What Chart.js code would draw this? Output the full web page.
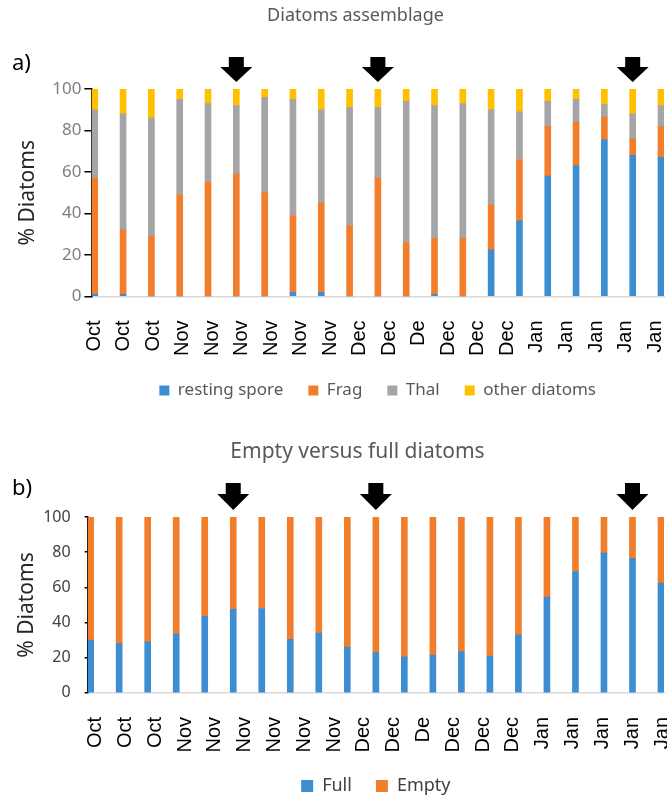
<!DOCTYPE html>
<html>
<head>
<meta charset="utf-8">
<script src="https://cdn.jsdelivr.net/npm/chart.js@4.4.1/dist/chart.umd.min.js"></script>
<style>
  html, body { margin: 0; padding: 0; background: #fff; }
  #wrap { position: relative; width: 667px; height: 799px; overflow: hidden; }
  .panel { position: absolute; left: 0; width: 667px; }
  #pa { top: 0; height: 409px; }
  #pb { top: 410px; height: 395px; }
  .tag { position: absolute; font: 22px 'Noto Sans', sans-serif; line-height: 1; color: #000; }
  .ttl { position: absolute; width: 667px; text-align: center; font-family: 'Noto Sans', sans-serif; color: #595959; }
</style>
</head>
<body>
<div id="wrap">
  <div class="panel" id="pa"><canvas id="chartA"></canvas></div>
  <div class="panel" id="pb"><canvas id="chartB"></canvas></div>
  <div class="ttl" style="left:22px;top:2px;font-size:18px;line-height:24px">Diatoms assemblage</div>
  <div class="ttl" style="left:24px;top:436px;font-size:21px;line-height:28px">Empty versus full diatoms</div>
  <div class="tag" style="left:12px;top:50px">a)</div>
  <div class="tag" style="left:12px;top:475px">b)</div>
</div>
<script>
// tick labels under the bars (20 labels, as printed in the figure)
const dateLabels = ['Oct', 'Oct', 'Oct', 'Nov', 'Nov', 'Nov', 'Nov', 'Nov', 'Nov',
  'Dec', 'Dec', 'De', 'Dec', 'Dec', 'Dec', 'Jan', 'Jan', 'Jan', 'Jan', 'Jan'];

// a) diatom assemblage, % per sample (21 samples)
const restingSpore = [1, 1, 0, 0, 0, 0, 0, 2, 2, 0, 0, 0, 1, 0, 22.5, 36.5, 58, 63, 75.5, 68, 67];
const frag = [56, 31, 29, 49, 55, 59, 50, 37, 43, 34, 57, 26, 27, 28, 21.5, 29.5, 24, 21, 11, 8, 15];
const thal = [33, 56, 57, 46, 38, 33, 46, 56, 45, 57, 34, 68, 64, 65, 46, 23, 12, 11, 6, 12, 10];
const otherDiatoms = [10, 12, 14, 5, 7, 8, 4, 5, 10, 9, 9, 6, 8, 7, 10, 11, 6, 5, 7.5, 12, 8];

// b) empty versus full, % per sample
const full = [30, 28, 29, 33.5, 43.5, 47.5, 48, 30.5, 34, 26, 23, 20.5, 21.5, 23.5, 21, 33, 54.5, 69, 79.5, 76.5, 62.5];
const empty = [70, 72, 71, 66.5, 56.5, 52.5, 52, 69.5, 66, 74, 77, 79.5, 78.5, 76.5, 79, 67, 45.5, 31, 20.5, 23.5, 37.5];

// samples marked with a black arrow
const arrowAt = [5, 10, 19];

const BLUE = '#3d8dd2';
const ORANGE = '#f27e2c';
const GRAY = '#a5a5a5';
const YELLOW = '#ffc000';

Chart.defaults.font.family = "'Noto Sans', sans-serif";

const arrowPlugin = {
  id: 'arrows',
  afterDatasetsDraw(chart, args, opts) {
    const { ctx, chartArea } = chart;
    const xScale = chart.scales.x;
    const tip = chartArea.top - opts.gap;
    const top = tip - opts.length;
    const neck = tip - opts.head;
    ctx.save();
    ctx.fillStyle = '#000';
    opts.at.forEach(i => {
      const cx = xScale.getPixelForValue(i);
      ctx.beginPath();
      ctx.moveTo(cx - 7.5, top);
      ctx.lineTo(cx + 7.5, top);
      ctx.lineTo(cx + 7.5, neck);
      ctx.lineTo(cx + 16, neck);
      ctx.lineTo(cx, tip);
      ctx.lineTo(cx - 16, neck);
      ctx.lineTo(cx - 7.5, neck);
      ctx.closePath();
      ctx.fill();
    });
    ctx.restore();
  }
};

const toPoints = arr => arr.map((v, i) => ({ x: i, y: v }));

const makeSet = (label, values, color) => ({
  label,
  data: toPoints(values),
  backgroundColor: color,
  borderWidth: 0,
  barThickness: 6
});

function buildOptions(p) {
  return {
    responsive: true,
    maintainAspectRatio: false,
    animation: false,
    layout: { padding: { left: p.padLeft, right: 3, top: p.padTop, bottom: 0 } },
    plugins: {
      title: { display: false },
      legend: {
        position: 'bottom',
        fullSize: false,
        labels: {
          boxWidth: p.box,
          boxHeight: p.box,
          padding: p.legendPad,
          color: p.legendColor,
          font: { size: p.legendSize }
        }
      },
      tooltip: { enabled: false },
      arrows: { at: arrowAt, gap: 7, length: p.arrowLen, head: p.arrowHead }
    },
    scales: {
      x: {
        type: 'linear',
        display: false,
        stacked: true,
        offset: false,
        bounds: 'data',
        min: p.barMin,
        max: p.barMax,
        grid: { offset: false }
      },
      x2: {
        type: 'linear',
        position: 'bottom',
        offset: false,
        bounds: 'data',
        min: p.lblMin,
        max: p.lblMax,
        grid: { display: false, drawTicks: false, offset: false },
        border: { color: '#d9d9d9', width: 1.5 },
        afterBuildTicks: scale => {
          scale.ticks = dateLabels.map((d, i) => ({ value: i }));
        },
        afterFit: scale => {
          scale.paddingLeft = 0;
          scale.paddingRight = 0;
          scale.height += p.extra;
        },
        ticks: {
          autoSkip: false,
          minRotation: 90,
          maxRotation: 90,
          padding: p.lblPad,
          color: '#000',
          font: { family: "'Liberation Sans', Arial, sans-serif", size: 20 },
          callback: v => dateLabels[v]
        }
      },
      y: {
        stacked: true,
        min: 0,
        max: 100,
        afterFit: scale => { scale.width -= p.yFix; },
        ticks: {
          stepSize: 20,
          color: p.tickColor,
          padding: p.tickPad,
          font: { size: p.tickSize }
        },
        grid: { drawOnChartArea: false, color: '#000', lineWidth: 1.5, tickLength: p.tickLen },
        border: { color: '#000', width: 1.5 },
        title: {
          display: true,
          text: '% Diatoms',
          color: '#262626',
          font: { size: 21 },
          padding: { top: 4, bottom: p.ytBottom }
        }
      }
    }
  };
}

new Chart(document.getElementById('chartA'), {
  type: 'bar',
  data: {
    datasets: [
      makeSet('resting spore', restingSpore, BLUE),
      makeSet('Frag', frag, ORANGE),
      makeSet('Thal', thal, GRAY),
      makeSet('other diatoms', otherDiatoms, YELLOW)
    ]
  },
  options: buildOptions({
    padTop: 89, padLeft: 11, ytBottom: 12, yFix: 3,
    box: 10, legendPad: 25, legendColor: '#595959', legendSize: 17,
    arrowLen: 25, arrowHead: 15,
    barMin: -0.12, barMax: 20.106,
    lblMin: -0.1018, lblMax: 19.305, lblPad: 24, extra: -23,
    tickColor: '#7f7f7f', tickPad: 3, tickSize: 17, tickLen: 7
  }),
  plugins: [arrowPlugin]
});

new Chart(document.getElementById('chartB'), {
  type: 'bar',
  data: {
    datasets: [
      makeSet('Full', full, BLUE),
      makeSet('Empty', empty, ORANGE)
    ]
  },
  options: buildOptions({
    padTop: 107, padLeft: 10, ytBottom: 3, yFix: 13,
    box: 12, legendPad: 24, legendColor: '#404040', legendSize: 18,
    arrowLen: 27, arrowHead: 16,
    barMin: -0.105, barMax: 20.105,
    lblMin: -0.268, lblMax: 19.067, lblPad: 24, extra: -23.5,
    tickColor: '#404040', tickPad: 14, tickSize: 16, tickLen: 3
  }),
  plugins: [arrowPlugin]
});
</script>
</body>
</html>
